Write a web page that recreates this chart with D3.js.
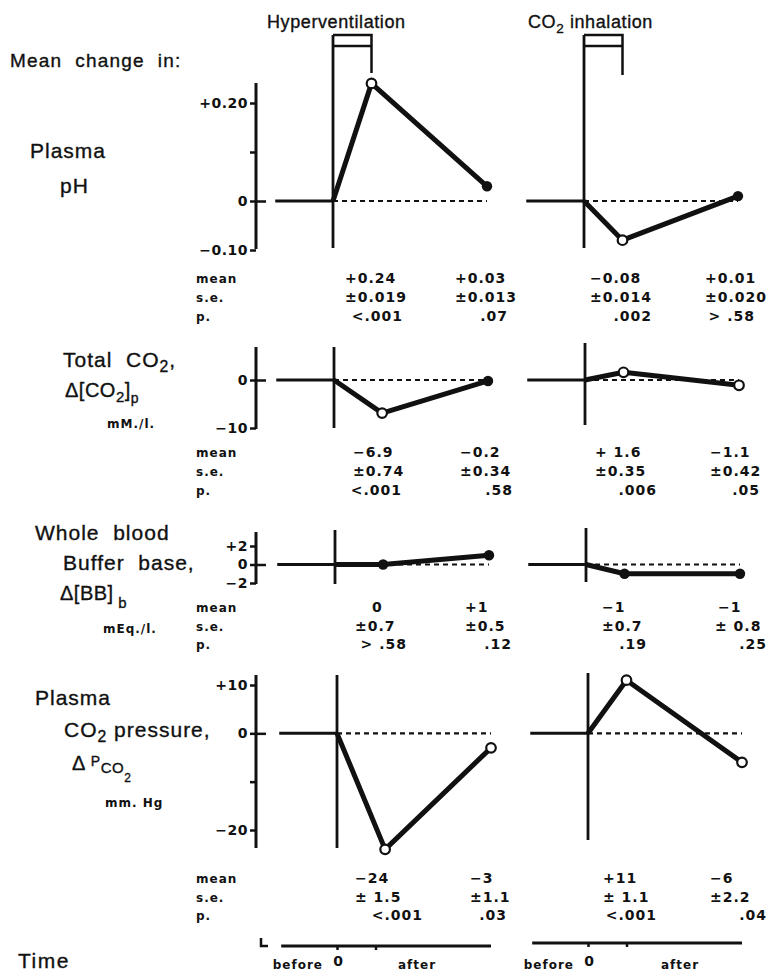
<!DOCTYPE html>
<html><head><meta charset="utf-8">
<script src="https://cdn.jsdelivr.net/npm/d3@7"></script>
<style>
body{margin:0;background:#fff}
svg{display:block}
text{font-family:"Liberation Sans",Arial,sans-serif;fill:#111;white-space:pre}
</style>
</head><body><svg id="c" width="768" height="973"></svg>
<script>
// ---------- DATA ----------
const conditions = ["Hyperventilation", "CO2 inhalation"];
const timeBefore = -1.5, timeZero = 0, timeEnd = 4;      // relative time units
const midTimeHyper = [1.0, 1.25, 1.25, 1.25];            // sampling time at end of exposure
const midTimeCO2 = [1.0, 1.0, 1.0, 1.0];

const phHyper = [0.24, 0.03],   phCO2 = [-0.08, 0.01];
const tco2Hyper = [-6.9, -0.2], tco2CO2 = [1.6, -1.1];
const bbHyper = [0, 1],         bbCO2 = [-1, -1];
const pco2Hyper = [-24, -3],    pco2CO2 = [11, -6];

const phHyperOpen = [true, false],   phCO2Open = [true, false];
const tco2HyperOpen = [true, false], tco2CO2Open = [true, true];
const bbHyperOpen = [false, false],  bbCO2Open = [false, false];
const pco2HyperOpen = [true, true],  pco2CO2Open = [true, true];

const phMean = ["+0.24", "+0.03", "−0.08", "+0.01"];
const phSE   = ["±0.019", "±0.013", "±0.014", "±0.020"];
const phP    = ["<.001", ".07", ".002", "> .58"];
const tco2Mean = ["−6.9", "−0.2", "+ 1.6", "−1.1"];
const tco2SE   = ["±0.74", "±0.34", "±0.35", "±0.42"];
const tco2P    = ["<.001", ".58", ".006", ".05"];
const bbMean = ["0", "+1", "−1", "−1"];
const bbSE   = ["±0.7", "±0.5", "±0.7", "± 0.8"];
const bbP    = ["> .58", ".12", ".19", ".25"];
const pco2Mean = ["−24", "−3", "+11", "−6"];
const pco2SE   = ["± 1.5", "±1.1", "± 1.1", "±2.2"];
const pco2P    = ["<.001", ".03", "<.001", ".04"];

const phTicks = [0.2, 0.1, 0, -0.1],   phTickLabels = ["+0.20", "", "0", "−0.10"];
const tco2Ticks = [0, -10],            tco2TickLabels = ["0", "−10"];
const bbTicks = [2, 0, -2],            bbTickLabels = ["+2", "0", "−2"];
const pco2Ticks = [10, 0, -10, -20],   pco2TickLabels = ["+10", "0", "", "−20"];

const statNames = ["mean", "s.e.", "p."];
const timeLabels = ["before", "0", "after"];

// ---------- LAYOUT ----------
const svg = d3.select("#c");
const unitPx = 38.5;
const axisX = 256;
const BOLDFONT = '"DejaVu Sans",Verdana,sans-serif';

const rows = [
  { vals:[phHyper, phCO2], open:[phHyperOpen, phCO2Open], ticks:phTicks, tl:phTickLabels,
    yDom:[-0.1, 0.2], yRng:[250, 103], axisExt:[83, 249], x0:[333, 584],
    vExt:[[35, 248], [35, 248]], statY:[283, 302, 321],
    stats:[phMean, phSE, phP], meanX:[345, 455, 590, 705], seX:[345, 455, 590, 705], pX:[403, 508, 652, 755] },
  { vals:[tco2Hyper, tco2CO2], open:[tco2HyperOpen, tco2CO2Open], ticks:tco2Ticks, tl:tco2TickLabels,
    yDom:[-10, 0], yRng:[428, 380], axisExt:[347, 429], x0:[334, 585],
    vExt:[[347, 428], [343, 425]], statY:[457, 476, 495],
    stats:[tco2Mean, tco2SE, tco2P], meanX:[353, 460, 595, 710], seX:[353, 460, 595, 710], pX:[402, 513, 657, 760] },
  { vals:[bbHyper, bbCO2], open:[bbHyperOpen, bbCO2Open], ticks:bbTicks, tl:bbTickLabels,
    yDom:[-2, 2], yRng:[583, 546], axisExt:[532, 584], x0:[335, 586],
    vExt:[[530, 584], [528, 582]], statY:[612, 631, 649],
    stats:[bbMean, bbSE, bbP], meanX:[372, 465, 602, 718], seX:[355, 465, 602, 715], pX:[407, 512, 647, 767] },
  { vals:[pco2Hyper, pco2CO2], open:[pco2HyperOpen, pco2CO2Open], ticks:pco2Ticks, tl:pco2TickLabels,
    yDom:[-20, 10], yRng:[830, 685], axisExt:[675, 848], x0:[337, 588],
    vExt:[[675, 848], [673, 840]], statY:[883, 902, 920],
    stats:[pco2Mean, pco2SE, pco2P], meanX:[355, 470, 603, 710], seX:[355, 470, 603, 710], pX:[423, 507, 657, 767] }
];

function rich(x, y, parts, size, weight, ls, anchor) {
  const t = svg.append("text").attr("x", x).attr("y", y)
    .style("font-size", size + "px").style("font-weight", weight || "normal")
    .style("letter-spacing", (ls || 0) + "px").attr("text-anchor", anchor || "start");
  if (weight === "bold") t.style("font-family", BOLDFONT);
  else t.attr("stroke", "#111").attr("stroke-width", 0.35);
  let cur = 0;
  parts.forEach(([s, shift, sc]) => {
    t.append("tspan").attr("dy", shift - cur).style("font-size", (size * sc) + "px").text(s);
    cur = shift;
  });
  return t;
}
function plain(x, y, s, size, weight, ls, anchor) { return rich(x, y, [[s, 0, 1]], size, weight, ls, anchor); }

// Titles
plain(267, 28, conditions[0], 18, "normal", 0.6);
rich(528, 28, [["CO", 0, 1], ["2", 5, 0.75], [" inhalation", 0, 1]], 18, "normal", 0.6);

// Brackets (exposure period: time 0..1)
[0, 1].forEach(c => {
  const x0 = rows[0].x0[c], x1 = x0 + unitPx * 1.0;
  const legEnd = c === 0 ? 73 : 75;
  svg.append("path").attr("d", `M${x0},35H${x1}V${legEnd}M${x0},46H${x1}`)
    .attr("fill", "none").attr("stroke", "#111").attr("stroke-width", 2.5);
});

// Row labels
plain(10, 67, "Mean  change  in:", 19, "normal", 1.2);
plain(30, 158, "Plasma", 21, "normal", 1);
plain(60, 193, "pH", 21, "normal", 1);
rich(63, 367, [["Total  CO", 0, 1], ["2", 5, 0.75], [",", 0, 1]], 21, "normal", 1);
rich(65, 397, [["Δ[CO", 0, 1], ["2", 5, 0.75], ["]", 0, 1], ["p", 6, 0.7]], 20, "normal", 0.5);
plain(107, 428, "mM./l.", 12, "bold", 1);
plain(35, 540, "Whole  blood", 21, "normal", 1);
plain(63, 570, "Buffer  base,", 21, "normal", 1);
rich(60, 600, [["Δ[BB]", 0, 1], [" b", 8, 0.75]], 20, "normal", 0.5);
plain(103, 633, "mEq./l.", 12, "bold", 1);
plain(35, 705, "Plasma", 21, "normal", 1);
rich(64, 737, [["CO", 0, 1], ["2", 5, 0.75], [" pressure,", 0, 1]], 21, "normal", 1);
rich(72, 770, [["Δ ", 0, 1], ["P", -4, 0.7], ["CO", 3, 0.75], ["2", 12, 0.6]], 20, "normal", 0.5);
plain(105, 807, "mm. Hg", 12, "bold", 1);
plain(18, 968, "Time", 21, "normal", 1.5);

// Panels
rows.forEach((r, ri) => {
  const y = d3.scaleLinear().domain(r.yDom).range(r.yRng);

  // y axis
  const ax = svg.append("g").attr("transform", `translate(${axisX},0)`)
    .call(d3.axisLeft(y).tickValues(r.ticks).tickSize(6).tickPadding(2)
      .tickFormat((d, i) => r.tl[i]));
  ax.select(".domain").remove();
  ax.selectAll(".tick line").attr("stroke", "#111").attr("stroke-width", 2.5)
    .attr("x1", d => d === 0 ? 10 : 0);
  ax.selectAll(".tick text").style("font-size", "14px").style("font-weight", "bold")
    .style("letter-spacing", "0.5px").style("font-family", BOLDFONT).attr("fill", "#111");
  svg.append("line").attr("x1", axisX).attr("x2", axisX)
    .attr("y1", r.axisExt[0]).attr("y2", r.axisExt[1])
    .attr("stroke", "#111").attr("stroke-width", 3);

  // stats labels
  statNames.forEach((s, k) => plain(196, r.statY[k], s, 12, "bold", 1));

  [0, 1].forEach(c => {
    const x = d3.scaleLinear().domain([0, 1]).range([r.x0[c], r.x0[c] + unitPx]);
    const mid = c === 0 ? midTimeHyper[ri] : midTimeCO2[ri];
    const times = [mid, timeEnd];
    const pts = times.map((t, i) => [t, r.vals[c][i]]);

    // vertical line at time 0
    svg.append("line").attr("x1", x(timeZero)).attr("x2", x(timeZero))
      .attr("y1", r.vExt[c][0]).attr("y2", r.vExt[c][1])
      .attr("stroke", "#111").attr("stroke-width", 2.8);
    // before segment
    svg.append("line").attr("x1", x(timeBefore)).attr("x2", x(timeZero))
      .attr("y1", y(0)).attr("y2", y(0))
      .attr("stroke", "#111").attr("stroke-width", 3);
    // dashed zero reference
    svg.append("line").attr("x1", x(timeZero)).attr("x2", x(timeEnd))
      .attr("y1", y(0)).attr("y2", y(0))
      .attr("stroke", "#111").attr("stroke-width", 2.2).attr("stroke-dasharray", "5,4");
    // data line
    const line = d3.line().x(d => x(d[0])).y(d => y(d[1]));
    svg.append("path").datum([[timeZero, 0], ...pts]).attr("d", line)
      .attr("fill", "none").attr("stroke", "#111").attr("stroke-width", 5)
      .attr("stroke-linejoin", "round");
    // markers
    svg.selectAll(null).data(pts).enter().append("circle")
      .attr("cx", d => x(d[0])).attr("cy", d => y(d[1]))
      .attr("r", (d, i) => r.open[c][i] ? 4.8 : 5.2)
      .attr("fill", (d, i) => r.open[c][i] ? "#fff" : "#111")
      .attr("stroke", "#111").attr("stroke-width", (d, i) => r.open[c][i] ? 2.2 : 0);

    // stats text
    for (let k = 0; k < 2; k++) {
      const col = c * 2 + k;
      plain(r.meanX[col], r.statY[0], r.stats[0][col], 14, "bold", 1);
      plain(r.seX[col], r.statY[1], r.stats[1][col], 14, "bold", 1);
      plain(r.pX[col], r.statY[2], r.stats[2][col], 14, "bold", 1, "end");
    }
  });
});

// Time axes at bottom
const lastRow = rows[3];
const afterX = [417, 680];
const timeAxisY = [946, 943];
[0, 1].forEach(c => {
  const x = d3.scaleLinear().domain([0, 1]).range([lastRow.x0[c], lastRow.x0[c] + unitPx]);
  const g = svg.append("g").attr("transform", `translate(0,${timeAxisY[c]})`)
    .call(d3.axisBottom(x).tickValues([timeZero, 1]).tickSize(4).tickFormat(""));
  g.select(".domain").remove();
  g.selectAll(".tick line").attr("stroke", "#111").attr("stroke-width", 2.5);
  svg.append("line").attr("x1", x(-1.45)).attr("x2", x(timeEnd))
    .attr("y1", timeAxisY[c]).attr("y2", timeAxisY[c])
    .attr("stroke", "#111").attr("stroke-width", 3);
  plain(x(timeZero) - 14, 969, timeLabels[0], 12, "bold", 1, "end");
  plain(x(timeZero) + 1, 966, timeLabels[1], 14, "bold", 0, "middle");
  plain(afterX[c], 969, timeLabels[2], 12, "bold", 1, "middle");
});
svg.append("path").attr("d", "M261,938V946H268").attr("fill", "none")
  .attr("stroke", "#111").attr("stroke-width", 2.5);
</script>
</body></html>
